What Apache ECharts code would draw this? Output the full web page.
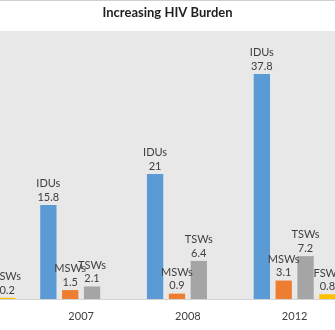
<!DOCTYPE html>
<html>
<head>
<meta charset="utf-8">
<script src="https://cdn.jsdelivr.net/npm/echarts@6/dist/echarts.min.js"></script>
<style>
  html, body { margin: 0; padding: 0; background: #ffffff; overflow: hidden; }
  #wrap { width: 335px; height: 330px; overflow: hidden; position: relative; }
  /* the canvas is wider than the window so the outer groups run past its edges */
  #chart { width: 427px; height: 330px; position: absolute; left: -79px; top: 0; }
</style>
</head>
<body>
<div id="wrap"><div id="chart"></div></div>
<script>
// Survey years (the first group sits mostly past the left edge)
var years = ['2006', '2007', '2008', '2012'];

// HIV prevalence (%) by key population
var idus = [null, 15.8, 21, 37.8];
var msws = [null, 1.5, 0.9, 3.1];
var tsws = [null, 2.1, 6.4, 7.2];
var fsws = [0.2, null, null, 0.8];

var groups = [
  { name: 'IDUs', data: idus, color: '#5b9bd5' },
  { name: 'MSWs', data: msws, color: '#ed7d31' },
  { name: 'TSWs', data: tsws, color: '#a5a5a5' },
  { name: 'FSWs', data: fsws, color: '#ffc000' }
];

var font = 'Lato, "Open Sans", sans-serif';

var chart = echarts.init(document.getElementById('chart'), null, { renderer: 'canvas' });
chart.setOption({
  backgroundColor: '#ffffff',
  animation: false,
  graphic: [{
    // thin frame edge along the top
    type: 'rect',
    shape: { x: 0, y: 0, width: 427, height: 1 },
    style: { fill: '#cfcfcf' }
  }, {
    type: 'text',
    x: 246.5,
    y: 6,
    style: {
      text: 'Increasing HIV Burden',
      align: 'center',
      verticalAlign: 'top',
      fontFamily: font,
      fontSize: 13,
      fontWeight: 'bold',
      fill: '#1f1f1f'
    }
  }],
  grid: {
    left: 0, right: 0, top: 31, bottom: 31,
    show: true, backgroundColor: '#e8e8e8', borderWidth: 0
  },
  xAxis: {
    type: 'category',
    data: years,
    axisLine: { lineStyle: { color: '#d4d4d4', width: 1 } },
    axisTick: { show: false },
    axisLabel: { fontFamily: font, fontSize: 11, color: '#404040', margin: 12 }
  },
  yAxis: {
    type: 'value',
    min: 0, max: 45,
    show: false,
    splitLine: { show: false }
  },
  series: groups.map(function (g) {
    return {
      name: g.name,
      type: 'bar',
      data: g.data,
      barWidth: 16.3,
      barGap: '34%',
      itemStyle: { color: g.color },
      label: {
        show: true,
        position: 'top',
        distance: 1,
        formatter: '{a}\n{c}',
        fontFamily: font,
        fontSize: 11,
        lineHeight: 13.5,
        color: '#404040'
      }
    };
  })
});
</script>
</body>
</html>
